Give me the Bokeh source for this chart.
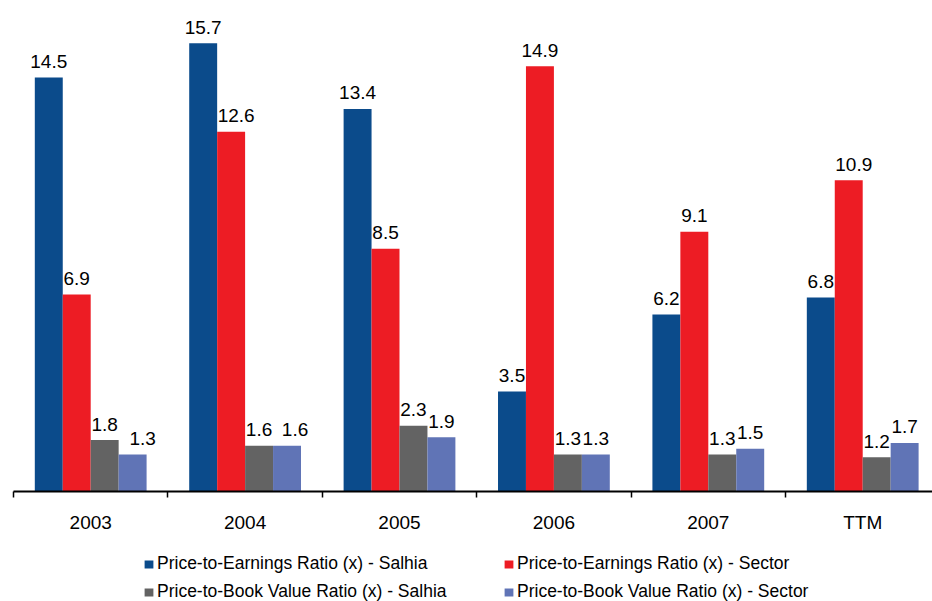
from bokeh.plotting import figure
from bokeh.layouts import column
from bokeh.models import (ColumnDataSource, Range1d, FixedTicker, Legend, LegendItem)
from bokeh.core.properties import value
from bokeh.embed import file_html
from bokeh.resources import INLINE

# Valuation multiples by period
periods = ["2003", "2004", "2005", "2006", "2007", "TTM"]
pe_salhia = [14.5, 15.7, 13.4, 3.5, 6.2, 6.8]
pe_sector = [6.9, 12.6, 8.5, 14.9, 9.1, 10.9]
pb_salhia = [1.8, 1.6, 2.3, 1.3, 1.3, 1.2]
pb_sector = [1.3, 1.6, 1.9, 1.3, 1.5, 1.7]

series_names = [
    "Price-to-Earnings Ratio (x) - Salhia",
    "Price-to-Earnings Ratio (x) - Sector",
    "Price-to-Book Value Ratio (x) - Salhia",
    "Price-to-Book Value Ratio (x) - Sector",
]
series_values = [pe_salhia, pe_sector, pb_salhia, pb_sector]
colors = ["#0B4B8B", "#ED1C24", "#636363", "#6074B6"]

# horizontal nudges (px) for value labels that would otherwise collide
label_nudge = [
    [0, 0, 0, 0, 0, 0],
    [0, 5, 0, 0, 0, 5],
    [0, 0, 0, 0, 0, 0],
    [10, 8, 0, 0, 0, 0],
]

FONT = "Liberation Sans"
BAR_W = 0.181

# ---- main bar chart ----
p = figure(width=932, height=540, output_backend="svg", toolbar_location=None,
           x_range=Range1d(0, 5.952), y_range=Range1d(0, 17.2),
           min_border_left=13, min_border_right=0, min_border_top=0,
           min_border_bottom=49, y_axis_location=None)
p.outline_line_color = None
p.xgrid.visible = False
p.ygrid.visible = False

centers = [i + 0.5 for i in range(len(periods))]
sources = []
for k, (vals, col) in enumerate(zip(series_values, colors)):
    off = (k - 1.5) * BAR_W
    src = ColumnDataSource(dict(
        x=[c + off for c in centers],
        top=vals,
        lbl=["{:.1f}".format(v) for v in vals],
        dx=label_nudge[k],
    ))
    sources.append(src)
    p.vbar(x="x", top="top", width=BAR_W, bottom=0, source=src,
           fill_color=col, line_color=None)
    p.text(x="x", y="top", text="lbl", source=src, text_align="center",
           text_baseline="alphabetic", x_offset="dx", y_offset=-16,
           text_font=value(FONT), text_font_size="19px", text_color="#000000")

ax = p.xaxis[0]
ax.ticker = FixedTicker(ticks=centers, minor_ticks=list(range(len(periods) + 1)))
ax.major_label_overrides = {c: lab for c, lab in zip(centers, periods)}
ax.major_tick_line_color = None
ax.major_tick_out = 0
ax.major_tick_in = 0
ax.minor_tick_line_color = "#000000"
ax.minor_tick_line_width = 1.5
ax.minor_tick_out = 6
ax.minor_tick_in = 0
ax.axis_line_color = "#000000"
ax.axis_line_width = 2
ax.major_label_standoff = 14
ax.major_label_text_font = FONT
ax.major_label_text_font_size = "19px"
ax.major_label_text_color = "#000000"

# ---- legend strip ----
lf = figure(width=932, height=61, output_backend="svg", toolbar_location=None,
            x_range=Range1d(0, 1), y_range=Range1d(0, 1),
            min_border=0, x_axis_location=None, y_axis_location=None)
lf.outline_line_color = None
lf.xgrid.visible = False
lf.ygrid.visible = False

# hidden copies of the series: only their legend swatches are shown
swatches = []
for src, col in zip(sources, colors):
    swatches.append(lf.vbar(x="x", top="top", width=BAR_W, source=src,
                            fill_color=col, line_color=None, visible=False))


def make_legend(idx, loc):
    return Legend(
        items=[LegendItem(label=series_names[i], renderers=[swatches[i]]) for i in idx],
        location=loc, orientation="vertical",
        glyph_width=11, glyph_height=10, label_standoff=3,
        label_text_font=FONT, label_text_font_size="17.5px",
        label_text_color="#000000", label_height=21,
        spacing=7, padding=0, margin=0,
        border_line_color=None, background_fill_alpha=0,
        inactive_fill_alpha=0)


lf.add_layout(make_legend([0, 2], (130, -1)))
lf.add_layout(make_legend([1, 3], (490, -1)))

layout = column(p, lf, spacing=0)
open("out.html", "w").write(file_html(layout, INLINE))
